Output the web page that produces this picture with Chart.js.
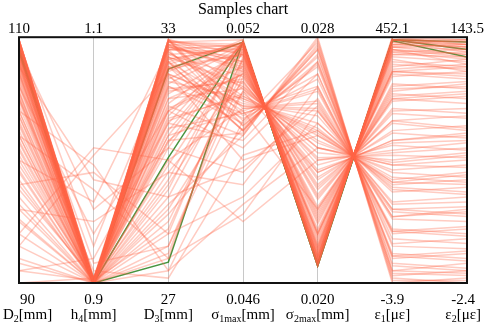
<!DOCTYPE html>
<html>
<head>
<meta charset="utf-8">
<script src="https://cdn.jsdelivr.net/npm/chart.js@4.4.1/dist/chart.umd.min.js"></script>
<style>
html, body { margin: 0; padding: 0; background: #fff; }
#wrap { width: 484px; height: 326px; }
</style>
</head>
<body>
<div id="wrap"><canvas id="samples"></canvas></div>
<script>
// axes of the parallel coordinates plot
const axisBase = ['D', 'h', 'D', 'σ', 'σ', 'ε', 'ε'];
const axisSub  = ['2', '4', '3', '1max', '2max', '1', '2'];
const axisUnit = ['[mm]', '[mm]', '[mm]', '[mm]', '[mm]', '[με]', '[με]'];
const axisMin  = [90, 0.9, 27, 0.046, 0.020, -3.9, -2.4];
const axisMax  = [110, 1.1, 33, 0.052, 0.028, 452.1, 143.5];
const minLabels = ['90', '0.9', '27', '0.046', '0.020', '-3.9', '-2.4'];
const maxLabels = ['110', '1.1', '33', '0.052', '0.028', '452.1', '143.5'];

// samples (one value per axis, same index = same sample)
const d2Vals = [109.6,108.4,107,105.6,104,109,102,107.6,100,109.8,98,108.6,106.4,96,109.2,105,103,108,94,109.4,
  101,107.4,99,109.8,104.4,92,108.8,106,102.4,108.2,97,109.6,103.6,106.8,91,107.8,101.6,109.4,105.2,95,
  108.6,103.2,109.8,99.6,107.2,109,98,106,93,102,109.6,96,104,91,107.6,100,94,105,108.4,90,
  109.4,106.6,109.8,102.8,108,98.4,109,105.6,109.6,101.4,108.4,96.4,107.2,109.8,104,108.8,93,107.6,109.2,100.4,
  106.2,109.8,104.8,108.2,97.6,109.4,102,107,109.8,99.2,108.6,103.6,107.8,95.2,109.6,105.4,109,100.8,108,91.6];
const h4Vals = [0.9,0.9,0.902,0.9,0.904,0.9,0.9,0.902,0.9,0.9,0.902,0.9,0.9,0.9,0.904,0.9,0.9,0.902,0.9,0.9,
  0.902,0.9,0.9,0.9,0.904,0.9,0.9,0.902,0.9,0.9,0.9,0.902,0.9,0.9,0.902,0.9,0.9,0.904,0.9,0.9,
  0.902,0.9,0.9,0.904,0.9,0.96,0.99,0.94,1.004,0.976,0.93,0.95,0.996,0.92,0.984,0.966,1.01,0.91,0.916,0.904,
  0.9,0.9,0.902,0.9,0.9,0.9,0.902,0.9,0.9,0.902,0.9,0.9,0.9,0.904,0.9,0.9,0.9,0.902,0.9,0.9,
  0.9,0.902,0.9,0.9,0.904,0.9,0.9,0.902,0.9,0.9,0.9,0.902,0.9,0.9,0.904,0.9,0.9,0.9,0.902,0.9];
const d3Vals = [32.7,32.28,32.88,31.5,32.52,30.6,31.92,31.2,32.76,29.7,32.28,32.88,28.8,32.58,32.1,28.2,32.94,30.3,31.68,32.4,
  30.9,32.82,29.4,31.8,32.7,32.1,27.6,31.32,32.88,30,30.72,32.52,27.3,32.22,31.5,32.94,29.1,31.08,32.64,27.9,
  30.48,32.4,28.5,31.8,32.76,30.3,28.2,31.2,32.1,27.6,32.4,29.7,27.3,30.9,29.1,32.7,30,27.12,27.9,30.6,
  32.46,32.94,31.62,32.34,30.96,32.82,29.52,32.04,32.76,31.38,28.68,32.7,32.22,30.48,32.94,31.86,31.2,32.58,29.28,32.28,
  32.88,30.78,27.72,32.64,31.98,31.26,32.52,29.88,32.94,30.42,32.4,28.32,32.82,31.74,32.16,28.92,32.82,31.02,32.94,32.46];
const s1Vals = [0.05182,0.05158,0.05176,0.05128,0.0508,0.05188,0.0505,0.0511,0.0514,0.05092,0.0502,0.05194,0.05068,0.0517,0.05032,0.05152,0.05008,0.05182,0.05098,0.04972,
  0.05188,0.05056,0.05122,0.0499,0.05164,0.05038,0.05176,0.0496,0.05134,0.05026,0.05188,0.05086,0.04996,0.05158,0.05074,0.04984,0.05146,0.05182,0.05044,0.05104,
  0.04966,0.05188,0.05116,0.05014,0.0517,0.0487,0.0481,0.0493,0.049,0.04768,0.04972,0.0484,0.04792,0.04948,0.04882,0.04996,0.0475,0.04912,0.05068,0.0502,
  0.05176,0.0514,0.05164,0.05188,0.05062,0.05116,0.05182,0.05002,0.05128,0.0517,0.04978,0.05152,0.05194,0.0508,0.05026,0.05176,0.05158,0.05104,0.05188,0.04972,
  0.05182,0.05014,0.05146,0.0505,0.05182,0.0511,0.04984,0.05164,0.05074,0.05188,0.05032,0.05134,0.05176,0.05092,0.05188,0.0496,0.05122,0.05056,0.05158,0.05182];
const s2Vals = [0.0208,0.0216,0.02096,0.0224,0.0244,0.02064,0.02496,0.0232,0.022,0.0236,0.0264,0.02056,0.02464,0.0212,0.0256,0.02176,0.0268,0.0208,0.02384,0.0276,
  0.02056,0.0248,0.0228,0.02736,0.02144,0.02544,0.02112,0.028,0.02224,0.02592,0.02072,0.024,0.02704,0.0216,0.0244,0.0272,0.02208,0.02088,0.0252,0.02336,
  0.02776,0.02064,0.02304,0.02624,0.0212,0.026,0.0252,0.0268,0.0248,0.0256,0.0276,0.0264,0.0244,0.0272,0.02576,0.02784,0.024,0.02496,0.0236,0.0224,
  0.02104,0.02192,0.02136,0.02064,0.02456,0.02288,0.0208,0.02664,0.02248,0.02112,0.02744,0.02168,0.02056,0.02408,0.02584,0.02096,0.02152,0.02344,0.02064,0.02768,
  0.02088,0.02632,0.02216,0.02504,0.0208,0.02312,0.02712,0.02128,0.02424,0.02072,0.02568,0.02232,0.02104,0.02368,0.02056,0.02792,0.02272,0.02488,0.0216,0.02088];
const e1Vals = [438.4,388.3,429.3,338.1,215,447.5,178.5,292.5,361,260.6,87.3,452.1,201.3,415.6,132.9,379.1,64.5,433.9,251.5,18.9,
  447.5,187.6,315.3,32.6,397.4,146.6,420.2,-3.9,347.2,114.7,443,237.8,50.8,388.3,215,41.7,356.3,429.3,164.8,278.8,
  9.8,447.5,297.1,96.4,411.1,119.2,169.4,69.1,192.2,142,18.9,91.9,219.5,46.3,132.9,5.2,242.3,183,260.6,338.1,
  424.7,365.5,401.9,447.5,205.9,310.7,438.4,78.2,333.5,420.2,28,383.7,452.1,233.2,119.2,429.3,392.8,274.3,447.5,14.3,
  433.9,91.9,351.8,173.9,438.4,297.1,46.3,406.5,224.1,443,128.3,342.7,424.7,256,447.5,0.7,319.9,183,388.3,433.9];
const e2Vals = [137.7,126,133.3,104.1,70.6,140.6,58.9,88.1,117.2,85.1,29.7,142,60.3,128.9,38.5,123.1,18,139.1,76.4,3.4,
  136.2,63.3,101.2,6.4,130.4,48.7,131.8,0.5,107,34.1,134.7,77.8,12.2,120.2,66.2,15.1,114.3,127.5,54.5,91,
  4.9,139.1,96.8,26.8,123.1,41.4,50.1,23.9,57.4,45.7,9.3,25.3,73.5,10.7,42.8,-2.4,80.8,61.8,86.6,110,
  136.2,112.9,124.5,137.7,67.6,95.4,142,21,108.5,134.7,4.9,118.7,139.1,72,39.9,131.8,127.5,83.7,140.6,2,
  133.3,31.2,115.8,51.6,137.7,89.5,16.6,126,74.9,139.1,37,111.4,130.4,82.2,142,-0.9,98.3,56,121.6,136.2];

// highlighted samples (green)
const hlD2 = [109, 109.2, 108.8];
const hlH4 = [0.9, 0.9, 0.9];
const hlD3 = [32.22, 30.06, 27.51];
const hlS1 = [0.05188, 0.05186, 0.0519];
const hlS2 = [0.02056, 0.02064, 0.02056];
const hlE1 = [447.5, 447.5, 445.3];
const hlE2 = [140.6, 136.2, 131.8];

const serif = "'Liberation Serif', 'Times New Roman', serif";

function norm(cols, i) {
    return cols.map((col, j) => (col[i] - axisMin[j]) / (axisMax[j] - axisMin[j]));
}

let datasets = [];
const allCols = [d2Vals, h4Vals, d3Vals, s1Vals, s2Vals, e1Vals, e2Vals];
for (let i = 0; i < d2Vals.length; i++) {
    datasets.push({
        data: norm(allCols, i),
        borderColor: 'rgba(255, 99, 71, 0.33)',
        borderWidth: 1.5
    });
}
const hlCols = [hlD2, hlH4, hlD3, hlS1, hlS2, hlE1, hlE2];
for (let i = 0; i < hlD2.length; i++) {
    datasets.push({
        data: norm(hlCols, i),
        borderColor: 'rgba(40, 130, 30, 0.85)',
        borderWidth: 1.5
    });
}

// frame + axis labels (with subscripts)
const axisLabels = {
    id: 'axisLabels',
    afterDatasetsDraw(chart) {
        const ctx = chart.ctx;
        const area = chart.chartArea;
        const xs = chart.scales.x;
        const W = chart.width;
        ctx.save();
        ctx.strokeStyle = '#111';
        ctx.lineWidth = 2;
        ctx.strokeRect(area.left, area.top, area.right - area.left, area.bottom - area.top);

        ctx.fillStyle = '#000';
        ctx.textBaseline = 'alphabetic';
        for (let j = 0; j < axisBase.length; j++) {
            const x = xs.getPixelForTick(j);

            ctx.font = '15px ' + serif;
            ctx.textAlign = 'center';
            ctx.fillText(maxLabels[j], x, area.top - 4);

            // name widths
            const wBase = ctx.measureText(axisBase[j]).width;
            const wUnit = ctx.measureText(axisUnit[j]).width;
            const wMin = ctx.measureText(minLabels[j]).width;
            ctx.font = '10px ' + serif;
            const wSub = ctx.measureText(axisSub[j]).width;
            const wName = wBase + wSub + wUnit;
            const block = Math.max(wName, wMin);
            let cx = Math.min(Math.max(x, 3 + block / 2), W - 3 - block / 2);

            ctx.font = '15px ' + serif;
            ctx.textAlign = 'center';
            ctx.fillText(minLabels[j], cx, area.bottom + 21);

            let left = cx - wName / 2;
            const base = area.bottom + 36;
            ctx.textAlign = 'left';
            ctx.fillText(axisBase[j], left, base);
            ctx.font = '10px ' + serif;
            ctx.fillText(axisSub[j], left + wBase, base + 3);
            ctx.font = '15px ' + serif;
            ctx.fillText(axisUnit[j], left + wBase + wSub, base);
        }
        ctx.restore();
    }
};

new Chart(document.getElementById('samples'), {
    type: 'line',
    data: {
        labels: axisBase.map((b, j) => b + axisSub[j]),
        datasets: datasets
    },
    options: {
        responsive: true,
        maintainAspectRatio: false,
        animation: false,
        elements: {
            point: { radius: 0 },
            line: { tension: 0 }
        },
        layout: {
            padding: { left: 19, right: 17, top: 0, bottom: 43 }
        },
        scales: {
            x: {
                offset: false,
                grid: { color: '#c8c8c8', lineWidth: 1, drawTicks: false },
                border: { display: false },
                ticks: { display: false }
            },
            y: {
                display: false,
                min: 0,
                max: 1
            }
        },
        plugins: {
            legend: { display: false },
            tooltip: { enabled: false },
            title: {
                display: true,
                text: 'Samples chart',
                color: '#000',
                font: { family: serif, size: 16, weight: 'normal' },
                padding: { top: 0, bottom: 18 }
            }
        }
    },
    plugins: [axisLabels]
});
</script>
</body>
</html>
